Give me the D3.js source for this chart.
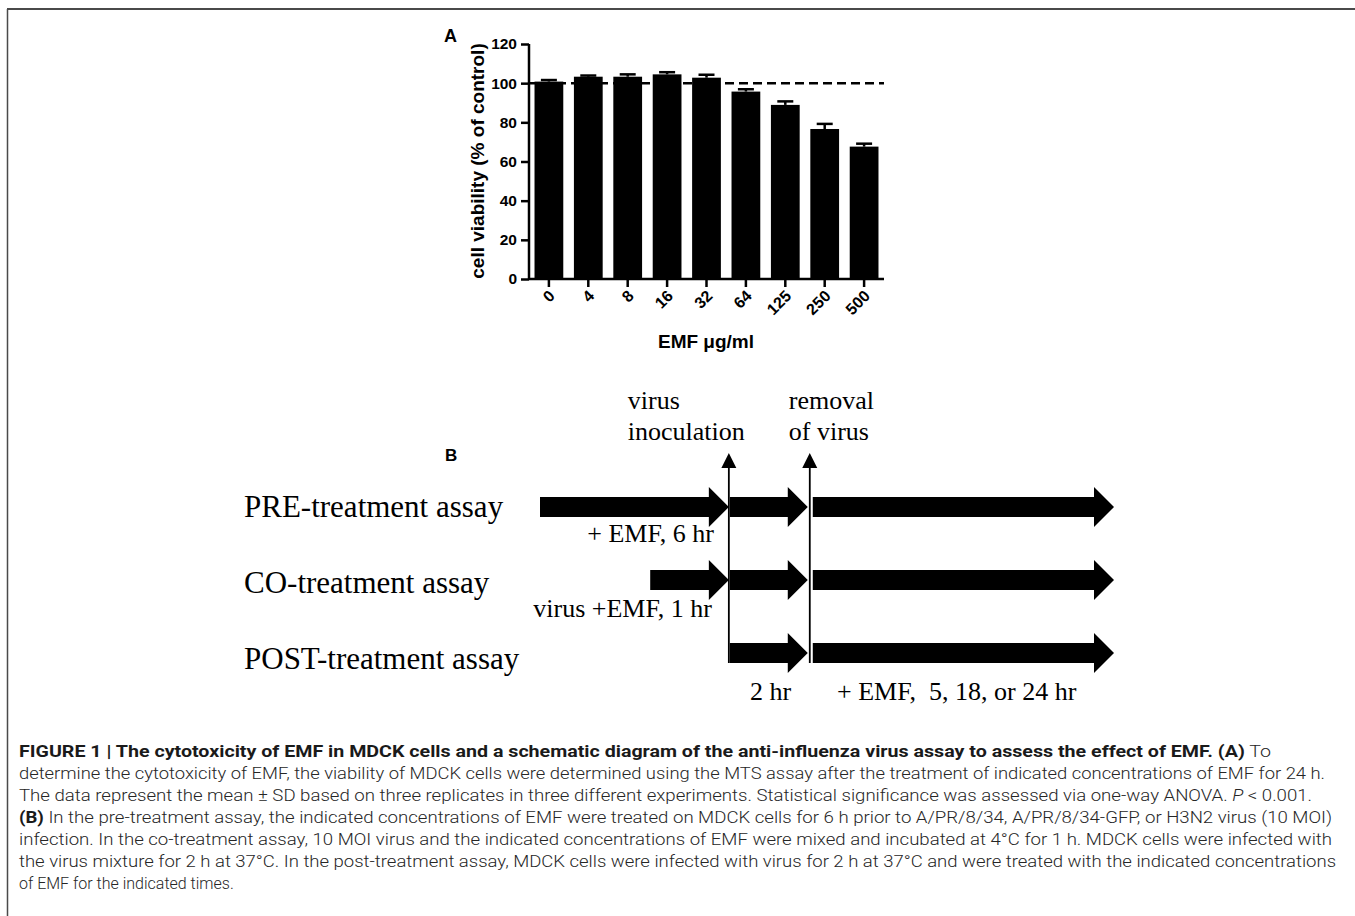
<!doctype html>
<html lang="en">
<head>
  <meta charset="utf-8">
  <title>Figure 1 - D3</title>
  <style>
    body { margin: 0; background: #fff; }
    svg { display: block; }
  </style>
</head>
<body>
  <svg id="fig"></svg>
  <script src="https://cdn.jsdelivr.net/npm/d3@7"></script>
  <script>
    // panel A: cell viability
    var doses = ['0', '4', '8', '16', '32', '64', '125', '250', '500'];
    var viability = [100.8, 103.3, 103.3, 104.5, 102.8, 95.7, 88.9, 76.6, 67.6];
    var viabilitySD = [0.8, 0.6, 1.2, 1.1, 1.5, 1.2, 1.8, 2.6, 1.5];
    var yTicks = [0, 20, 40, 60, 80, 100, 120];
    var controlLevel = 100;

    // panel B: assay schematic (timeline in schematic units, not hours)
    var assays = ['PRE-treatment assay', 'CO-treatment assay', 'POST-treatment assay'];
    var assayStart = [0, 19.2, 32.9];
    var markPos = [32.9, 47.0];
    var markLabels = [['virus', 'inoculation'], ['removal', 'of virus']];
    var timelineEnd = 100;

    // caption lines
    var caption = [
      [{t: 'FIGURE 1 | The cytotoxicity of EMF in MDCK cells and a schematic diagram of the anti-influenza virus assay to assess the effect of EMF. (A)', b: 1}, {t: ' To'}],
      [{t: 'determine the cytotoxicity of EMF, the viability of MDCK cells were determined using the MTS assay after the treatment of indicated concentrations of EMF for 24 h.'}],
      [{t: 'The data represent the mean \u00b1 SD based on three replicates in three different experiments. Statistical significance was assessed via one-way ANOVA. '}, {t: 'P', i: 1}, {t: ' < 0.001.'}],
      [{t: '(B)', b: 1}, {t: ' In the pre-treatment assay, the indicated concentrations of EMF were treated on MDCK cells for 6 h prior to A/PR/8/34, A/PR/8/34-GFP, or H3N2 virus (10 MOI)'}],
      [{t: 'infection. In the co-treatment assay, 10 MOI virus and the indicated concentrations of EMF were mixed and incubated at 4\u00b0C for 1 h. MDCK cells were infected with'}],
      [{t: 'the virus mixture for 2 h at 37\u00b0C. In the post-treatment assay, MDCK cells were infected with virus for 2 h at 37\u00b0C and were treated with the indicated concentrations'}],
      [{t: 'of EMF for the indicated times.'}]
    ];
    var captionEnds = [1271, 1325, 1312, 1332, 1332, 1336, 0];

    var width = 1355, height = 916;
    var svg = d3.select('#fig').attr('width', width).attr('height', height);

    // figure frame
    svg.append('line').attr('x1', 7).attr('x2', width).attr('y1', 9).attr('y2', 9)
      .attr('stroke', '#4a4a4a').attr('stroke-width', 2);
    svg.append('line').attr('x1', 7.5).attr('x2', 7.5).attr('y1', 9).attr('y2', height)
      .attr('stroke', '#4a4a4a').attr('stroke-width', 1.5);

    // ---------- panel A ----------
    var sans = '"Liberation Sans", Arial, Helvetica, sans-serif';
    var x = d3.scaleBand().domain(doses).range([529, 884]).paddingInner(0.27).paddingOuter(0.14);
    var y = d3.scaleLinear().domain([0, 120]).range([279, 44]);

    var gA = svg.append('g').attr('font-family', sans);

    gA.selectAll('rect.bar').data(viability).enter().append('rect')
      .attr('class', 'bar')
      .attr('x', function (d, i) { return x(doses[i]); })
      .attr('y', function (d) { return y(d); })
      .attr('width', x.bandwidth())
      .attr('height', function (d) { return y(0) - y(d); })
      .attr('fill', '#000');

    // upper error bars
    var err = gA.selectAll('g.err').data(viability).enter().append('g').attr('class', 'err');
    err.append('line')
      .attr('x1', function (d, i) { return x(doses[i]) + x.bandwidth() / 2; })
      .attr('x2', function (d, i) { return x(doses[i]) + x.bandwidth() / 2; })
      .attr('y1', function (d) { return y(d); })
      .attr('y2', function (d, i) { return y(d + viabilitySD[i]); })
      .attr('stroke', '#000').attr('stroke-width', 2.5);
    err.append('line')
      .attr('x1', function (d, i) { return x(doses[i]) + x.bandwidth() / 2 - 8; })
      .attr('x2', function (d, i) { return x(doses[i]) + x.bandwidth() / 2 + 8; })
      .attr('y1', function (d, i) { return y(d + viabilitySD[i]); })
      .attr('y2', function (d, i) { return y(d + viabilitySD[i]); })
      .attr('stroke', '#000').attr('stroke-width', 2.5);

    // control reference line
    gA.append('line')
      .attr('x1', 529).attr('x2', 884)
      .attr('y1', y(controlLevel)).attr('y2', y(controlLevel))
      .attr('stroke', '#000').attr('stroke-width', 2.5)
      .attr('stroke-dasharray', '9,5');

    // axes
    var yAxis = gA.append('g').attr('transform', 'translate(529,0)')
      .call(d3.axisLeft(y).tickValues(yTicks).tickSize(8).tickPadding(4).tickSizeOuter(0));
    var xAxis = gA.append('g').attr('transform', 'translate(0,279)')
      .call(d3.axisBottom(x).tickSize(8).tickSizeOuter(0).tickFormat(''));
    [yAxis, xAxis].forEach(function (ax) {
      ax.select('.domain').attr('stroke', '#000').attr('stroke-width', 2.5);
      ax.selectAll('.tick line').attr('stroke', '#000').attr('stroke-width', 2.5);
    });
    yAxis.select('.domain').attr('d', 'M0,44V279');
    xAxis.select('.domain').attr('d', 'M529,0H884');
    yAxis.selectAll('.tick text')
      .attr('font-family', sans).attr('font-size', 15.5).attr('font-weight', 'bold').attr('fill', '#000');

    // rotated dose labels
    gA.selectAll('text.dose').data(doses).enter().append('text')
      .attr('class', 'dose')
      .attr('transform', function (d) {
        return 'translate(' + (x(d) + x.bandwidth() / 2 + 7) + ',297) rotate(-45)';
      })
      .attr('text-anchor', 'end')
      .attr('font-size', 16).attr('font-weight', 'bold')
      .text(function (d) { return d; });

    gA.append('text')
      .attr('transform', 'translate(484,161) rotate(-90)')
      .attr('text-anchor', 'middle')
      .attr('font-size', 19).attr('font-weight', 'bold')
      .text('cell viability (% of control)');

    gA.append('text')
      .attr('x', 706).attr('y', 348)
      .attr('text-anchor', 'middle')
      .attr('font-size', 19).attr('font-weight', 'bold')
      .text('EMF \u03bcg/ml');

    gA.append('text').attr('x', 444).attr('y', 42)
      .attr('font-size', 18).attr('font-weight', 'bold').text('A');

    // ---------- panel B ----------
    var serif = '"Liberation Serif", "Times New Roman", Times, serif';
    var t = d3.scaleLinear().domain([0, timelineEnd]).range([540, 1114]);
    var row = d3.scalePoint().domain(assays).range([507, 653]);
    var labelRow = d3.scalePoint().domain(assays).range([517, 669]);

    var gB = svg.append('g').attr('font-family', serif).attr('fill', '#000');

    gB.append('text').attr('x', 445).attr('y', 461)
      .attr('font-family', sans).attr('font-size', 17).attr('font-weight', 'bold').text('B');

    gB.selectAll('text.assay').data(assays).enter().append('text')
      .attr('class', 'assay')
      .attr('x', 244).attr('y', function (d) { return labelRow(d); })
      .attr('font-size', 31)
      .text(function (d) { return d; });

    // block arrows, one per stage
    var segs = [];
    assays.forEach(function (a, i) {
      var edges = [assayStart[i]].concat(markPos.filter(function (m) { return m > assayStart[i]; }), [timelineEnd]);
      for (var k = 0; k < edges.length - 1; k++) {
        segs.push({row: a, from: edges[k], to: edges[k + 1]});
      }
    });
    var bodyH = 10, headH = 20, headL = 20;
    gB.selectAll('path.stage').data(segs).enter().append('path')
      .attr('class', 'stage')
      .attr('fill', '#000')
      .attr('d', function (s) {
        var x0 = t(s.from) + (s.from === markPos[1] ? 3 : (s.from === markPos[0] ? 1 : 0));
        var x1 = t(s.to) - (s.to === markPos[1] ? 2 : 0);
        var cy = row(s.row);
        return 'M' + x0 + ',' + (cy - bodyH) + 'H' + (x1 - headL) + 'V' + (cy - headH) +
          'L' + x1 + ',' + cy + 'L' + (x1 - headL) + ',' + (cy + headH) + 'V' + (cy + bodyH) +
          'H' + x0 + 'Z';
      });

    // event lines with arrowheads
    var marks = gB.selectAll('g.mark').data(markPos).enter().append('g').attr('class', 'mark');
    marks.append('line')
      .attr('x1', function (d) { return t(d); }).attr('x2', function (d) { return t(d); })
      .attr('y1', 466).attr('y2', row(assays[2]) + bodyH)
      .attr('stroke', '#000').attr('stroke-width', 1.8);
    marks.append('path')
      .attr('fill', '#000')
      .attr('d', function (d) {
        var cx = t(d);
        return 'M' + (cx - 7.5) + ',468L' + cx + ',453L' + (cx + 7.5) + ',468Z';
      });
    marks.each(function (d, i) {
      var lx = i === 0 ? t(d) - 101 : t(d) - 21;
      d3.select(this).selectAll('text').data(markLabels[i]).enter().append('text')
        .attr('x', lx).attr('y', function (s, j) { return 409 + j * 31; })
        .attr('font-size', 26)
        .text(function (s) { return s; });
    });

    // stage annotations
    gB.append('text').attr('x', 714).attr('y', 542).attr('text-anchor', 'end')
      .attr('font-size', 26).text('+ EMF, 6 hr');
    gB.append('text').attr('x', 712).attr('y', 617).attr('text-anchor', 'end')
      .attr('font-size', 26).text('virus +EMF, 1 hr');
    gB.append('text').attr('x', 750).attr('y', 700)
      .attr('font-size', 26).text('2 hr');
    gB.append('text').attr('x', 837).attr('y', 700).attr('xml:space', 'preserve')
      .attr('font-size', 26).text('+ EMF,  5, 18, or 24 hr');

    // ---------- caption ----------
    var cap = svg.append('g').attr('font-family', 'Roboto, "Liberation Sans", sans-serif')
      .attr('font-size', 16).attr('fill', '#262626');
    caption.forEach(function (parts, i) {
      var tx = cap.append('text').attr('x', 19).attr('y', 757 + i * 22)
        .attr('xml:space', 'preserve').attr('font-weight', 300);
      if (captionEnds[i]) {
        tx.attr('textLength', captionEnds[i] - 19).attr('lengthAdjust', 'spacingAndGlyphs');
      }
      parts.forEach(function (p) {
        tx.append('tspan')
          .attr('font-weight', p.b ? 'bold' : null)
          .attr('fill', p.b ? '#1a1a1a' : null)
          .attr('font-style', p.i ? 'italic' : null)
          .text(p.t);
      });
    });
  </script>
</body>
</html>
